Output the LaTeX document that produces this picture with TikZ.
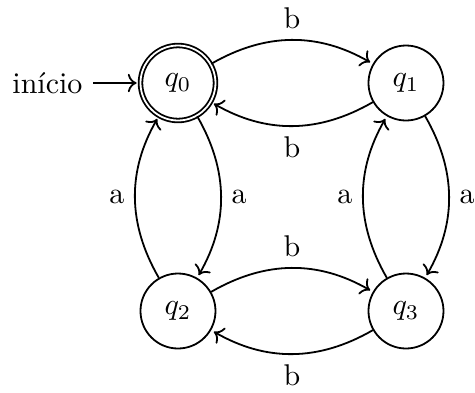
\documentclass[tikz,border=0pt]{standalone}
\usepackage{amsmath}
\usetikzlibrary{
  arrows.meta,
  positioning
}
\tikzset{
  estado/.style = {draw, circle, minimum size=25pt, inner sep=0pt, semithick},
  aceita/.style = {double},
  trans/.style  = {->, semithick, shorten >=1pt},
  rotulo/.style = {font=\normalsize},
}

\begin{document}
\begin{tikzpicture}[node distance=76pt, on grid, auto]
\useasboundingbox (-59.33pt,-103pt) rectangle (99pt,27.67pt);

\node[estado, aceita] (q0) {$q_0$};
\node[estado, right=of q0] (q1) {$q_1$};
\node[estado, below=of q0] (q2) {$q_2$};
\node[estado, right=of q2] (q3) {$q_3$};
\node[rotulo, left=43.5pt of q0] (inicio) {início};

\draw[trans] (inicio) -- (q0);

% horizontais
\draw[trans] (q0) to[bend left=30] node {b} (q1);
\draw[trans] (q1) to[bend left=30] node {b} (q0);
\draw[trans] (q2) to[bend left=30] node {b} (q3);
\draw[trans] (q3) to[bend left=30] node {b} (q2);

% verticais
\draw[trans] (q0) to[bend left=30] node {a} (q2);
\draw[trans] (q2) to[bend left=30] node {a} (q0);
\draw[trans] (q1) to[bend left=30] node {a} (q3);
\draw[trans] (q3) to[bend left=30] node {a} (q1);
\end{tikzpicture}
\end{document}
